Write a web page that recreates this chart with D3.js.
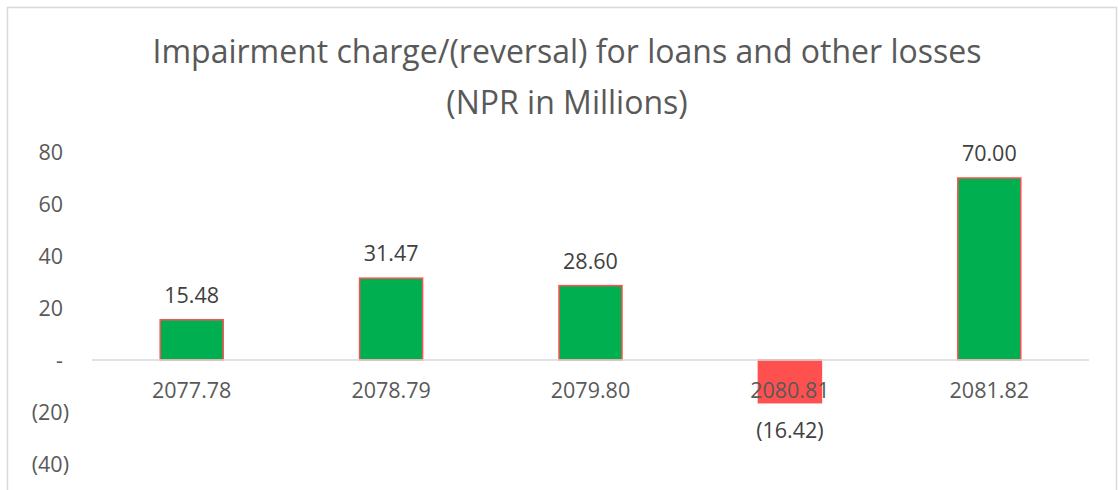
<!DOCTYPE html>
<html>
<head>
<meta charset="utf-8">
<script src="https://cdn.jsdelivr.net/npm/d3@7"></script>
<style>
  body { margin: 0; background: #fff; }
  svg { display: block; font-family: "Open Sans", sans-serif; }
</style>
</head>
<body>
<script>
// data
var years  = ["2077.78", "2078.79", "2079.80", "2080.81", "2081.82"];
var values = [15.48, 31.47, 28.60, -16.42, 70.00];
var yTicks = [-40, -20, 0, 20, 40, 60, 80];
var titleLines = ["Impairment charge/(reversal) for loans and other losses", "(NPR in Millions)"];

var width = 1118, height = 490;
var left = 92, right = 1089, zeroY = 360;
var labelSize = 21.5;

var svg = d3.select("body").append("svg")
    .attr("width", width)
    .attr("height", height);

// chart frame
svg.append("rect")
    .attr("x", 7.5).attr("y", 7.5)
    .attr("width", 1109).attr("height", 500)
    .attr("fill", "none")
    .attr("stroke", "#d9d9d9")
    .attr("stroke-width", 1.5);

// title
svg.append("g").selectAll("text")
    .data(titleLines)
    .join("text")
    .attr("x", 567)
    .attr("y", (d, i) => 63 + i * 51)
    .attr("text-anchor", "middle")
    .attr("font-size", 32)
    .attr("fill", "#595959")
    .text(d => d);

//=========================== scales ==========================================

var x = d3.scaleBand()
    .domain(years)
    .range([left, right])
    .padding(0);

var y = d3.scaleLinear()
    .domain([0, 80])
    .range([zeroY, 152]);

var barW = x.bandwidth() * 0.316;

//=========================== axes ============================================

function fmt(v) {
    if (v == 0) return "-";
    if (v < 0) return "(" + Math.abs(v) + ")";
    return String(v);
}

var yAxis = svg.append("g")
    .call(d3.axisLeft(y).tickValues(yTicks).tickFormat(fmt).tickSize(0))
    .attr("transform", "translate(63,0)");
yAxis.select(".domain").remove();
yAxis.selectAll("text")
    .attr("font-size", labelSize)
    .attr("fill", "#595959")
    .attr("font-family", "Open Sans, sans-serif")
    .attr("dx", d => d < 0 ? 6 : 0)
    .attr("dy", "0.35em")
    .attr("x", 0);

// bars
svg.append("g").selectAll("rect")
    .data(values)
    .join("rect")
    .attr("x", (d, i) => x(years[i]) + (x.bandwidth() - barW) / 2)
    .attr("y", d => y(Math.max(0, d)))
    .attr("width", barW)
    .attr("height", d => Math.abs(y(d) - y(0)))
    .attr("fill", d => d < 0 ? "#ff5050" : "#00b050")
    .attr("stroke", "#ff5050")
    .attr("stroke-width", 1.5);

// zero line
svg.append("line")
    .attr("x1", left).attr("x2", right)
    .attr("y1", y(0)).attr("y2", y(0))
    .attr("stroke", "#d9d9d9")
    .attr("stroke-width", 1.5);

// category labels
svg.append("g").selectAll("text")
    .data(years)
    .join("text")
    .attr("x", d => x(d) + x.bandwidth() / 2)
    .attr("y", 398)
    .attr("text-anchor", "middle")
    .attr("font-size", labelSize)
    .attr("fill", "#595959")
    .text(d => d);

// value labels
svg.append("g").selectAll("text")
    .data(values)
    .join("text")
    .attr("x", (d, i) => x(years[i]) + x.bandwidth() / 2)
    .attr("y", d => d < 0 ? y(d) + 35 : y(d) - 17)
    .attr("text-anchor", "middle")
    .attr("font-size", labelSize)
    .attr("fill", "#404040")
    .text(d => d < 0 ? "(" + Math.abs(d).toFixed(2) + ")" : d.toFixed(2));
</script>
</body>
</html>
